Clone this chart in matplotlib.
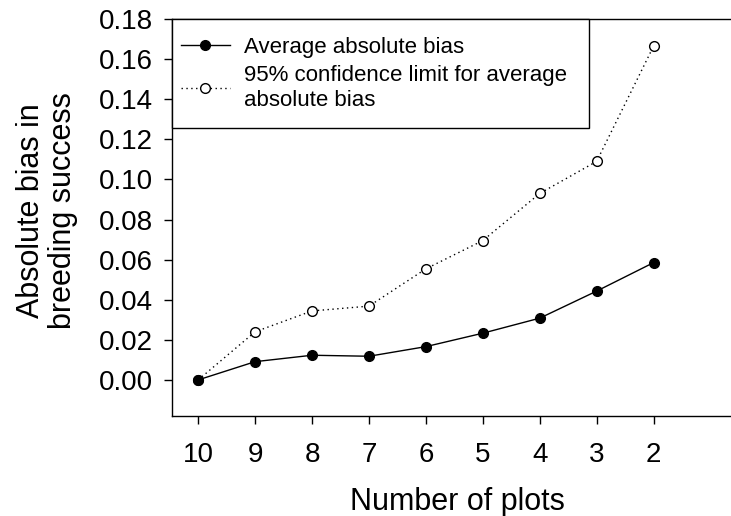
import numpy as np
import matplotlib.pyplot as plt
from matplotlib.patches import Rectangle

plt.rcParams['font.family'] = ['Liberation Sans', 'DejaVu Sans']

plots = ['10', '9', '8', '7', '6', '5', '4', '3', '2']
avg_bias = [0.0, 0.0091, 0.0123, 0.0118, 0.0166, 0.0233, 0.0308, 0.0443, 0.0585]
ci_limit = [0.0, 0.0240, 0.0344, 0.0368, 0.0554, 0.0695, 0.0930, 0.1090, 0.1665]
yticks = [0.00, 0.02, 0.04, 0.06, 0.08, 0.10, 0.12, 0.14, 0.16, 0.18]

W, H = 731, 516
fig = plt.figure(figsize=(W / 100, H / 100), dpi=100)
ax_w = W - 172 + 8
ax_h = 416 - 19
ax = fig.add_axes([172 / W, 1 - 416 / H, ax_w / W, ax_h / H])

x = np.arange(len(plots))
ax.plot(x, ci_limit, color='black', lw=1, ls=(0, (1, 2.5)), marker='o',
        ms=7, mfc='white', mec='black', mew=1,
        label='95% confidence limit for average\nabsolute bias', zorder=3)
ax.plot(x, avg_bias, color='black', lw=1, marker='o', ms=7,
        mfc='black', mec='black', label='Average absolute bias', zorder=4)

ax.set_xlim(-0.46, 9.5)
ax.set_ylim(-0.018, 0.18)
ax.set_xticks(x)
ax.set_xticklabels(plots)
ax.set_yticks(yticks)
ax.set_yticklabels([f'{v:.2f}' for v in yticks])
ax.tick_params(direction='out', length=6, width=1, labelsize=20)
ax.tick_params(axis='y', pad=8)
ax.tick_params(axis='x', pad=13)
ax.spines['right'].set_visible(False)
for s in ['left', 'bottom', 'top']:
    ax.spines[s].set_linewidth(1)

ax.set_xlabel('Number of plots', fontsize=22)
ax.xaxis.set_label_coords((457 - 172) / ax_w, (416 - 487) / ax_h)
ax.set_ylabel('Absolute bias in\nbreeding success', fontsize=22,
              linespacing=1.1)
ax.yaxis.set_label_coords((78 - 172) / ax_w, (416 - 211) / ax_h)

# legend frame drawn separately so it can be wider than the text
box = Rectangle((0, (416 - 128) / ax_h), (589 - 172) / ax_w, (128 - 19) / ax_h,
                transform=ax.transAxes, facecolor='white', edgecolor='black',
                lw=1, zorder=5, clip_on=False)
ax.add_patch(box)

handles, labels = ax.get_legend_handles_labels()
leg = ax.legend(handles[::-1], labels[::-1], loc='upper left',
                bbox_to_anchor=(0, 1 - 9 / ax_h), borderaxespad=0, fontsize=16,
                frameon=False, handlelength=2.2, handletextpad=0.65,
                labelspacing=0.3, borderpad=0.4)
leg.set_zorder(6)
for t in leg.get_texts():
    t.set_linespacing(1.3)

fig.savefig('out.png', dpi=100)
